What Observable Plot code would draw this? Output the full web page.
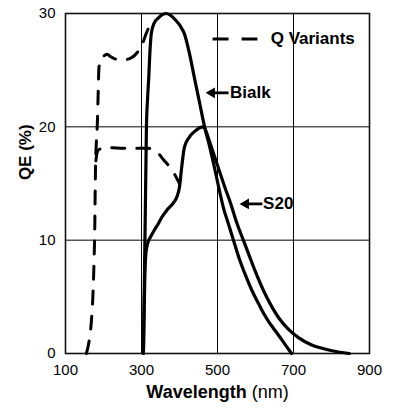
<!DOCTYPE html>
<html><head><meta charset="utf-8">
<script src="https://cdn.jsdelivr.net/npm/d3@7"></script>
<script src="https://cdn.jsdelivr.net/npm/@observablehq/plot@0.6"></script>
<style>html,body{margin:0;padding:0;background:#fff}svg{display:block}</style>
</head><body><div id="chart"></div>
<script>
// Tick labels
const xTicks = [100, 300, 500, 700, 900];
const yTicks = [0, 10, 20, 30];
const xGrid = [300, 500, 700];
const yGrid = [10, 20];

// Bialkali photocathode QE (%)
const bialkNm = [305, 307, 309, 311, 313, 316, 319, 322, 326, 334, 344, 355, 366, 378, 390, 402, 413, 426, 440, 453, 466, 479, 490, 505, 516, 530, 542, 558, 575, 590, 608, 622, 635, 650, 663, 680, 695];
const bialkQE = [0, 5, 10, 15, 20, 22.5, 24.3, 26.5, 28.3, 29.2, 29.6, 29.9, 30, 29.8, 29.4, 28.9, 28.2, 26.5, 24.2, 22.1, 20, 18.3, 16.7, 14.4, 12.8, 11.3, 10, 8.3, 6.8, 5.6, 4.4, 3.5, 2.8, 2.1, 1.5, 0.7, 0];

// S20 photocathode QE (%)
const s20Nm = [305, 307, 309, 311, 314, 318, 324, 334, 345, 353, 368, 384, 394, 400, 405, 413, 426, 440, 452, 463, 470, 479, 490, 505, 520, 535, 550, 568, 585, 600, 615, 629, 645, 660, 685, 713, 745, 782, 815, 847];
const s20QE = [0, 4, 7, 8.6, 9.4, 9.9, 10.3, 10.9, 11.5, 12, 12.7, 13.3, 13.9, 14.7, 16.2, 18.2, 19.1, 19.6, 19.9, 20, 19.6, 18.7, 17.6, 16.1, 14.6, 13.2, 11.6, 10, 8.5, 7.2, 6, 5, 4, 3.2, 2.2, 1.4, 0.8, 0.4, 0.15, 0];

// Q variants (dashed), upper and lower branches
const qUpperNm = [155, 163, 168, 172, 175, 177, 178, 179, 181, 184, 186, 188, 193, 203, 210, 218, 230, 250, 274, 290, 300, 312, 322];
const qUpperQE = [0, 1.3, 2.8, 5, 8, 11, 14, 16.5, 18.5, 20.5, 23, 25.2, 26, 26.3, 26.4, 26.2, 26.0, 25.9, 26.1, 26.6, 27.1, 28.2, 29.0];
const qLowerNm = [180, 183, 188, 200, 221, 250, 280, 300, 320, 337, 358, 382, 400];
const qLowerQE = [17.0, 17.7, 18.0, 18.1, 18.15, 18.1, 18.1, 18.1, 18.1, 17.9, 17.1, 16.1, 15.0];

const toRows = (xs, ys) => xs.map((x, i) => ({x, y: ys[i]}));
const bialk = toRows(bialkNm, bialkQE);
const s20 = toRows(s20Nm, s20QE);
const qUpper = toRows(qUpperNm, qUpperQE);
const qLower = toRows(qLowerNm, qLowerQE);

const font = "Liberation Sans, Arial, Helvetica, sans-serif";
const dash = "13,12";

const chart = Plot.plot({
  width: 393,
  height: 408,
  marginLeft: 65,
  marginRight: 24,
  marginTop: 13,
  marginBottom: 55,
  x: {domain: [100, 900]},
  y: {domain: [0, 30]},
  style: {fontFamily: font, color: "#000", background: "#fff"},
  marks: [
    Plot.ruleX(xGrid, {stroke: "#000", strokeWidth: 1}),
    Plot.ruleY(yGrid, {stroke: "#000", strokeWidth: 1}),
    Plot.frame({stroke: "#111", strokeWidth: 1.6}),
    Plot.axisX({ticks: xTicks, tickSize: 0, tickPadding: 11, fontSize: 15, label: null, tickFormat: d => String(d)}),
    Plot.axisY({ticks: yTicks, tickSize: 0, tickPadding: 10, fontSize: 15, label: null}),
    Plot.line(qUpper, {x: "x", y: "y", stroke: "#000", strokeWidth: 3, strokeDasharray: dash, curve: "monotone-x"}),
    Plot.line(qLower, {x: "x", y: "y", stroke: "#000", strokeWidth: 3, strokeDasharray: dash, curve: "monotone-x"}),
    Plot.line(bialk, {x: "x", y: "y", stroke: "#000", strokeWidth: 3.2, curve: "monotone-x"}),
    Plot.line(s20, {x: "x", y: "y", stroke: "#000", strokeWidth: 3.2, curve: "monotone-x"}),
    // legend for Q variants
    Plot.link([0], {x1: () => 487, x2: () => 605, y1: () => 27.75, y2: () => 27.75, stroke: "#000", strokeWidth: 3, strokeDasharray: "16,13"}),
    Plot.text(["Q Variants"], {x: () => 640, y: () => 27.75, text: d => d, textAnchor: "start", fontSize: 17, fontWeight: "bold"}),
    // Bialk label with arrow
    Plot.link([0], {x1: () => 483, x2: () => 529, y1: () => 23.0, y2: () => 23.0, stroke: "#000", strokeWidth: 2.8}),
    Plot.dot([0], {x: () => 485, y: () => 23.0, symbol: "triangle", r: 4, rotate: -90, fill: "#000", stroke: "none"}),
    Plot.text(["Bialk"], {x: () => 533, y: () => 23.0, text: d => d, textAnchor: "start", fontSize: 17, fontWeight: "bold"}),
    // S20 label with arrow
    Plot.link([0], {x1: () => 572, x2: () => 618, y1: () => 13.2, y2: () => 13.2, stroke: "#000", strokeWidth: 2.8}),
    Plot.dot([0], {x: () => 574.5, y: () => 13.2, symbol: "triangle", r: 4, rotate: -90, fill: "#000", stroke: "none"}),
    Plot.text(["S20"], {x: () => 620, y: () => 13.2, text: d => d, textAnchor: "start", fontSize: 17, fontWeight: "bold"}),
    // axis titles
    Plot.text(["Wavelength (nm)"], {x: () => 500, frameAnchor: "bottom", dy: 44, text: d => d, fontSize: 18, fontWeight: "bold"}),
    Plot.text(["QE (%)"], {y: () => 15.3, frameAnchor: "left", dx: -40, rotate: -90, text: d => d, fontSize: 17, fontWeight: "bold"})
  ]
});

document.getElementById("chart").append(chart);

// mixed weight for the x-axis title
d3.select(chart).selectAll("text").filter(function () { return this.textContent === "Wavelength (nm)"; })
  .each(function () {
    const t = d3.select(this);
    t.text(null);
    t.append("tspan").attr("font-weight", "bold").text("Wavelength");
    t.append("tspan").attr("font-weight", "normal").text(" (nm)");
  });
</script>
</body></html>
